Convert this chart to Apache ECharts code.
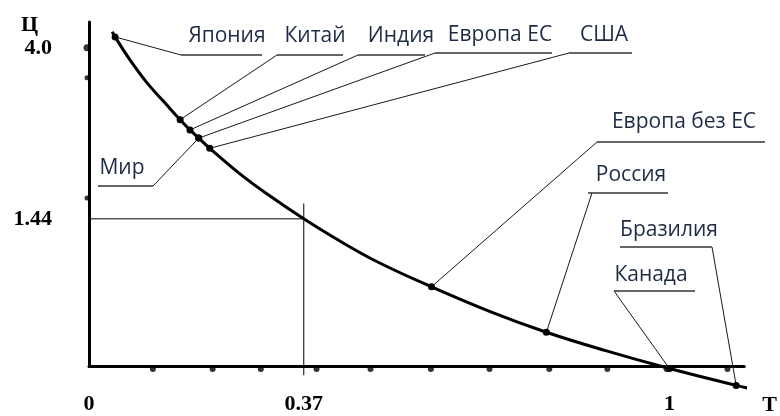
<!DOCTYPE html>
<html>
<head>
<meta charset="utf-8">
<script src="https://cdn.jsdelivr.net/npm/echarts@6/dist/echarts.min.js"></script>
<style>html,body{margin:0;padding:0;background:#fff}#c{width:780px;height:416px}</style>
</head>
<body>
<div id="c"></div>
<script>
// ---- data ----
const curveT = [0.040, 0.045, 0.07, 0.10, 0.13, 0.157, 0.174, 0.189, 0.208, 0.26, 0.31, 0.37, 0.43, 0.50, 0.59, 0.69, 0.788, 0.89, 1.0, 1.115, 1.155];
const curveC = [3.27, 3.22, 3.00, 2.77, 2.58, 2.41, 2.31, 2.23, 2.13, 1.88, 1.67, 1.44, 1.23, 1.01, 0.775, 0.535, 0.33, 0.15, -0.025, -0.19, -0.24];
const countries = ['Япония', 'Китай', 'Индия', 'Европа ЕС', 'США', 'Мир', 'Европа без ЕС', 'Россия', 'Канада', 'Бразилия'];
const countryT = [0.045, 0.157, 0.174, 0.189, 0.208, 0.189, 0.59, 0.788, 1.0, 1.115];
const countryC = [3.22, 2.41, 2.31, 2.23, 2.13, 2.23, 0.775, 0.33, -0.025, -0.19];
const xTickValues = [0, 0.37, 1];
const xTickLabels = ['0', '0.37', '1'];
const yTickValues = [3.113, 1.44];
const yTickLabels = ['4.0', '1.44'];
const guideT = 0.37;
const guideC = 1.44;
const xDots = [0.11, 0.213, 0.296, 0.392, 0.485, 0.589, 0.69, 0.793, 0.893, 0.995, 1.10];
const yDots = [3.113, 2.82, 1.644];
const xName = 'Т';
const yName = 'Ц';

// ---- layout of callouts (pixels) ----
const labelLayout = [
  {tx: 227, ty: 36, u1: 181, u2: 262, uy: 55, ax: 181},
  {tx: 315, ty: 36, u1: 277, u2: 343, uy: 55, ax: 277},
  {tx: 401, ty: 36, u1: 358, u2: 425, uy: 55, ax: 358},
  {tx: 500, ty: 35, u1: 435, u2: 552, uy: 53, ax: 435},
  {tx: 604, ty: 35, u1: 569, u2: 632, uy: 53, ax: 569},
  {tx: 122, ty: 168, u1: 98, u2: 153, uy: 186, ax: 153},
  {tx: 684, ty: 122, u1: 597, u2: 765, uy: 142, ax: 597},
  {tx: 631, ty: 175, u1: 588, u2: 668, uy: 193, ax: 592},
  {tx: 651, ty: 275, u1: 614, u2: 695, uy: 291, ax: 614},
  {tx: 669, ty: 230, u1: 620, u2: 712, uy: 247, ax: 712}
];

const serif = '"Liberation Serif", "Times New Roman", serif';
const sans = '"Open Sans", "Noto Sans", sans-serif';
const textColor = '#1e2b45';

function pick(vals, labels, v) {
  let best = 0;
  for (let i = 0; i < vals.length; i++) if (Math.abs(vals[i] - v) < Math.abs(vals[best] - v)) best = i;
  return labels[best];
}

const chart = echarts.init(document.getElementById('c'), null, {renderer: 'canvas'});
chart.setOption({
  animation: false,
  backgroundColor: '#fff',
  grid: {left: 89, right: 35, top: 22, bottom: 48},
  xAxis: {
    type: 'value', min: 0, max: 1.129,
    name: xName, nameLocation: 'end', nameGap: 18,
    nameTextStyle: {fontFamily: serif, fontWeight: 'bold', fontSize: 22, color: '#000', verticalAlign: 'top', padding: [28, 0, 0, 0]},
    axisLine: {show: true, onZero: true, lineStyle: {color: '#000', width: 3}},
    axisTick: {show: false},
    splitLine: {show: false},
    axisLabel: {
      customValues: xTickValues, margin: 27,
      fontFamily: serif, fontWeight: 'bold', fontSize: 22, color: '#000',
      formatter: v => pick(xTickValues, xTickLabels, v)
    }
  },
  yAxis: {
    type: 'value', min: 0, max: 3.366,
    name: yName, nameLocation: 'end', nameGap: 8,
    nameTextStyle: {fontFamily: serif, fontWeight: 'bold', fontSize: 22, color: '#000', align: 'right', verticalAlign: 'top', padding: [0, 51, 0, 0]},
    axisLine: {show: true, lineStyle: {color: '#000', width: 3}},
    axisTick: {show: false},
    splitLine: {show: false},
    axisLabel: {
      customValues: yTickValues, margin: 37,
      fontFamily: serif, fontWeight: 'bold', fontSize: 22, color: '#000',
      formatter: v => pick(yTickValues, yTickLabels, v)
    }
  },
  series: [
    {
      type: 'line', silent: true, clip: false, symbol: 'none', z: 1,
      data: [[-0.021, guideC], [guideT, guideC]],
      lineStyle: {color: '#000', width: 1}
    },
    {
      type: 'line', silent: true, clip: false, symbol: 'none', z: 1,
      data: [[guideT, guideC + 0.15], [guideT, -0.09]],
      lineStyle: {color: '#000', width: 1}
    },
    {
      type: 'scatter', silent: true, clip: false, z: 3,
      data: xDots.map(t => [t, 0]),
      symbolSize: 6, symbolOffset: [0, 3],
      itemStyle: {color: '#000'}
    },
    {
      type: 'scatter', silent: true, clip: false, z: 3,
      data: yDots.map((c, i) => ({value: [0, c], symbolSize: i === 0 ? 7 : 5})),
      symbolOffset: [-2, 0],
      itemStyle: {color: '#000'}
    },
    {
      type: 'line', silent: true, clip: false, symbol: 'none', smooth: 0.4, z: 4,
      data: curveT.map((t, i) => [t, curveC[i]]),
      lineStyle: {color: '#000', width: 3}
    },
    {
      type: 'custom', silent: true, clip: false, z: 5,
      data: countryT.map((t, i) => [t, countryC[i]]),
      renderItem: function (params, api) {
        const i = params.dataIndex;
        const p = api.coord([api.value(0), api.value(1)]);
        const L = labelLayout[i];
        return {
          type: 'group',
          children: [
            {type: 'line', shape: {x1: p[0], y1: p[1], x2: L.ax, y2: L.uy}, style: {stroke: '#1a1a1a', lineWidth: 1}},
            {type: 'line', shape: {x1: L.u1, y1: L.uy, x2: L.u2, y2: L.uy}, style: {stroke: '#333', lineWidth: 1.5}},
            {type: 'text', style: {text: countries[i], x: L.tx, y: L.ty, align: 'center', verticalAlign: 'middle', font: '21px ' + sans, fill: textColor}},
            {type: 'circle', shape: {cx: p[0], cy: p[1], r: 3.5}, style: {fill: '#000'}}
          ]
        };
      }
    }
  ]
});
</script>
</body>
</html>
